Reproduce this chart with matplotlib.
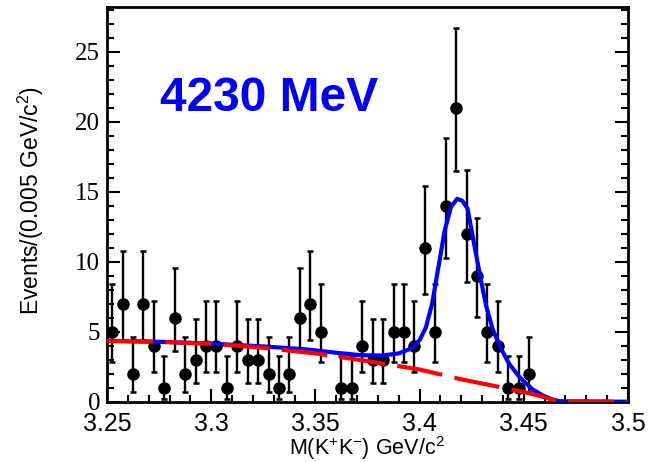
import numpy as np
import matplotlib
matplotlib.use("Agg")
import matplotlib.pyplot as plt
from matplotlib.ticker import MultipleLocator, FuncFormatter

# -- K+K- invariant mass spectrum, 5 MeV bins from 3.25 GeV --
bin_start = 3.25
bin_width = 0.005
counts = [5, 7, 2, 7, 4, 1, 6, 2, 3, 4,
          4, 1, 4, 3, 3, 2, 1, 2, 6, 7,
          5, 0, 1, 1, 4, 3, 3, 5, 5, 4,
          11, 5, 14, 21, 12, 9, 5, 4, 1, 1,
          2, 0, 0, 0, 0, 0, 0, 0, 0, 0]
# asymmetric (Poisson) error bars, lower / upper extent
err_lo = [2.16, 2.58, 1.29, 2.58, 1.91, 0.83, 2.38, 1.29, 1.63, 1.91,
          1.91, 0.83, 1.91, 1.63, 1.63, 1.29, 0.83, 1.29, 2.38, 2.58,
          2.16, 0.00, 0.83, 0.83, 1.91, 1.63, 1.63, 2.16, 2.16, 1.91,
          3.27, 2.16, 3.70, 4.55, 3.42, 2.94, 2.16, 1.91, 0.83, 0.83,
          1.29, 0, 0, 0, 0, 0, 0, 0, 0, 0]
err_hi = [3.38, 3.77, 2.64, 3.77, 3.16, 2.30, 3.58, 2.64, 2.92, 3.16,
          3.16, 2.30, 3.16, 2.92, 2.92, 2.64, 2.30, 2.64, 3.58, 3.77,
          3.38, 0.00, 2.30, 2.30, 3.16, 2.92, 2.92, 3.38, 3.38, 3.16,
          4.42, 3.38, 4.84, 5.69, 4.57, 4.11, 3.38, 3.16, 2.30, 2.30,
          2.64, 0, 0, 0, 0, 0, 0, 0, 0, 0]

# -- total fit (signal + background) --
fit_mass = [3.25, 3.275, 3.30, 3.325, 3.345, 3.36, 3.372, 3.382, 3.390,
            3.396, 3.400, 3.403, 3.406, 3.409, 3.412, 3.415, 3.418, 3.4205,
            3.423, 3.426, 3.429, 3.432, 3.435, 3.439, 3.443, 3.448, 3.454,
            3.459, 3.463, 3.467, 3.50]
fit_total = [4.35, 4.28, 4.15, 3.95, 3.75, 3.5, 3.32, 3.3, 3.45,
             3.8, 4.4, 5.3, 7.0, 9.6, 12.2, 13.9, 14.5, 14.35,
             13.8, 11.4, 9.0, 6.8, 5.2, 3.8, 2.7, 1.75, 0.9,
             0.45, 0.2, 0.03, 0.0]

# -- background only --
bkg_mass = [3.25, 3.275, 3.30, 3.325, 3.35, 3.375, 3.40, 3.42, 3.44,
            3.45, 3.458, 3.463, 3.467, 3.50]
bkg_vals = [4.35, 4.28, 4.15, 3.85, 3.45, 2.9, 2.3, 1.6, 1.0,
            0.7, 0.4, 0.18, 0.0, 0.0]

energy_label = "4230 MeV"

plt.rcParams['mathtext.fontset'] = 'custom'
plt.rcParams['mathtext.rm'] = 'Liberation Sans'
plt.rcParams['mathtext.it'] = 'Liberation Sans:italic'
plt.rcParams['mathtext.bf'] = 'Liberation Sans:bold'
plt.rcParams['font.family'] = ['Liberation Sans', 'DejaVu Sans']

fig = plt.figure(figsize=(6.55, 4.62), dpi=100)
ax = fig.add_axes([0.1634, 0.1305, 0.7954, 0.8543])

counts = np.array(counts, dtype=float)
err_lo = np.array(err_lo)
err_hi = np.array(err_hi)
centers = bin_start + bin_width * (np.arange(len(counts)) + 0.5)
filled = counts > 0

ax.errorbar(centers[filled], counts[filled],
            yerr=[err_lo[filled], err_hi[filled]],
            fmt='o', color='black', ms=8, elinewidth=1.7,
            capsize=2.2, capthick=1.8, zorder=2)
ax.plot(fit_mass, fit_total, color='#0000ff', lw=3, zorder=3)
ax.plot(bkg_mass, bkg_vals, color='#ff0000', lw=3, dashes=(11, 3), zorder=4)

ax.set_xlim(3.25, 3.5)
ax.set_ylim(0, 28.2)

ax.xaxis.set_major_locator(MultipleLocator(0.05))
ax.xaxis.set_minor_locator(MultipleLocator(0.01))
ax.yaxis.set_major_locator(MultipleLocator(5))
ax.yaxis.set_minor_locator(MultipleLocator(1))
ax.xaxis.set_major_formatter(FuncFormatter(lambda v, p: '%g' % round(v, 3)))
ax.yaxis.set_major_formatter(FuncFormatter(lambda v, p: '%g' % v))

ax.tick_params(which='both', direction='in', right=True, top=False, width=1.5)
ax.tick_params(which='major', length=9.5)
ax.tick_params(which='minor', length=4.7)
ax.tick_params(axis='x', which='major', pad=7.5)
ax.tick_params(axis='y', which='major', pad=5)
for lab in ax.get_xticklabels():
    lab.set_fontfamily('Liberation Sans')
    lab.set_fontsize(18)
for lab in ax.get_yticklabels():
    lab.set_fontfamily('Liberation Serif')
    lab.set_fontsize(18)
for sp in ax.spines.values():
    sp.set_linewidth(2)

ax.set_xlabel(r'M(K$^{+}$K$^{-}$) GeV/c$^{2}$', fontsize=15.5)
ax.set_ylabel(r'Events/(0.005 GeV/c$^{2}$)', fontsize=16.5)
ax.xaxis.set_label_coords(0.499, -0.083)
ax.yaxis.set_label_coords(-0.117, 0.51)

ax.text(0.1017, 0.7365, energy_label, transform=ax.transAxes,
        color='#0000ff', fontsize=34.5, fontweight='bold',
        ha='left', va='baseline')

fig.savefig('out.png', dpi=100)
